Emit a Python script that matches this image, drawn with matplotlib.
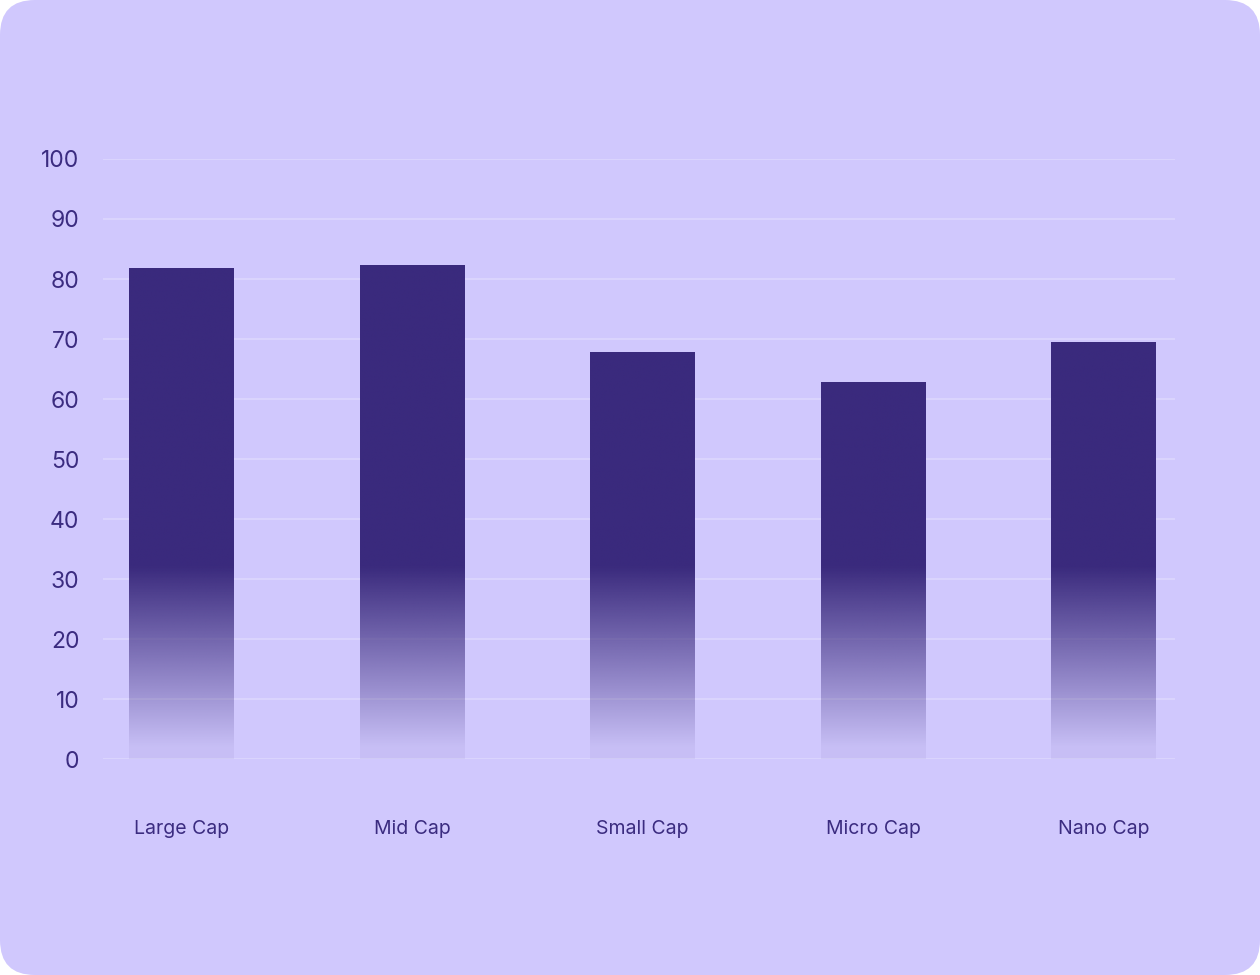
import numpy as np
import matplotlib
matplotlib.use("Agg")
import matplotlib.pyplot as plt
from matplotlib.patches import FancyBboxPatch
from matplotlib.colors import to_rgb

categories = ["Large Cap", "Mid Cap", "Small Cap", "Micro Cap", "Nano Cap"]
values = [81.8, 82.3, 67.8, 62.8, 69.5]
yticks = [0, 10, 20, 30, 40, 50, 60, 70, 80, 90, 100]

bg = "#D0C8FD"
bar_color = "#3A2A7D"
text_color = "#3B2C80"

plt.rcParams["font.family"] = ["Inter", "DejaVu Sans"]

fig = plt.figure(figsize=(12.6, 9.75), dpi=100)
fig.patch.set_facecolor("white")
# rounded card behind everything, sized in inches so the corners stay round
card = FancyBboxPatch((0, 0), 12.6, 9.75, boxstyle="round,pad=0,rounding_size=0.35",
                      transform=fig.dpi_scale_trans, facecolor=bg, edgecolor="none",
                      zorder=-10)
fig.patches.append(card)

ax = fig.add_axes([103 / 1260, (975 - 759) / 975, (1175 - 103) / 1260, 600 / 975])
ax.set_facecolor("none")
ax.set_zorder(5)

x = np.arange(len(categories))
width = 0.455
bars = ax.bar(x, values, width=width, color="none", edgecolor="none", zorder=3)

rgb = to_rgb(bar_color)
for bar, v in zip(bars, values):
    ys = np.linspace(0, v, 400)
    alpha = np.clip(ys / 32.0, 0.06, 1.0)
    img = np.zeros((len(ys), 1, 4))
    img[:, 0, :3] = rgb
    img[:, 0, 3] = alpha
    x0 = bar.get_x()
    im = ax.imshow(img, extent=[x0, x0 + width, 0, v], origin="lower",
                   aspect="auto", interpolation="bilinear", zorder=3)
    im.set_clip_path(bar)

ax.set_xlim(-0.34, 4.308)
ax.set_ylim(0, 100)
ax.set_yticks(yticks)
ax.set_xticks(x)
ax.set_xticklabels(categories)
ax.grid(axis="y", color="#DDD7FE", linewidth=1.2, zorder=1)
ax.set_axisbelow(True)
for s in ax.spines.values():
    s.set_visible(False)
ax.tick_params(axis="both", length=0, colors=text_color)
ax.tick_params(axis="y", pad=17, labelsize=16.5)
ax.tick_params(axis="x", pad=44, labelsize=14)

fig.savefig("out.png", dpi=100, facecolor=fig.get_facecolor())
